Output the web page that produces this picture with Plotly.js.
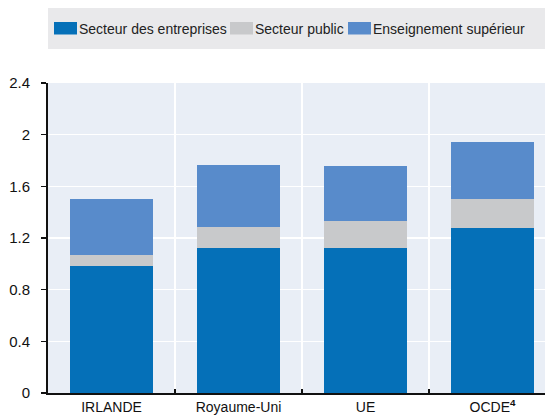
<!DOCTYPE html>
<html>
<head>
<meta charset="utf-8">
<script src="https://cdn.plot.ly/plotly-3.0.1.min.js"></script>
<style>html,body{margin:0;padding:0;overflow:hidden;background:#fff}#chart{width:545px;height:416px}</style>
</head>
<body>
<div id="chart"></div>
<script>
const categories = ["IRLANDE", "Royaume-Uni", "UE", "OCDE<sup><b>4</b></sup>"];
const seriesNames = ["Secteur des entreprises", "Secteur public", "Enseignement supérieur"];
const business = [0.98, 1.12, 1.12, 1.28];
const publicSector = [0.09, 0.165, 0.21, 0.22];
const higherEd = [0.43, 0.48, 0.43, 0.44];
const yTicks = [0, 0.4, 0.8, 1.2, 1.6, 2, 2.4];
const yTickLabels = ["0", "0.4", "0.8", "1.2", "1.6", "2", "2.4"];

const colors = ["#0570B8", "#C8C9CB", "#588BCB"];
const values = [business, publicSector, higherEd];
const FONT = "'Liberation Sans', Arial, sans-serif";

const traces = values.map((v, i) => ({
  type: "bar",
  x: categories,
  y: v,
  name: seriesNames[i],
  marker: {color: colors[i], line: {width: 0}},
  showlegend: false,
  hoverinfo: "none"
}));

// custom legend (paper coords: plot area x 48..545, y 83..393)
const legendX = [54, 230, 348];
const px = x => (x - 48) / 497;
const py = y => (393 - y) / 310;
const shapes = [{type: "rect", xref: "paper", yref: "paper", x0: px(48), x1: px(545), y0: py(49), y1: py(8), fillcolor: "#E9E9EB", line: {width: 0}, layer: "below"}];
const annotations = [];
seriesNames.forEach((n, i) => {
  shapes.push({type: "rect", xref: "paper", yref: "paper", x0: px(legendX[i]), x1: px(legendX[i] + 23), y0: py(34.5), y1: py(22), fillcolor: colors[i], line: {width: 0}});
  annotations.push({xref: "paper", yref: "paper", x: px(legendX[i] + 23), y: py(28.5), xanchor: "left", yanchor: "middle", text: n, showarrow: false, font: {family: FONT, size: 14, color: "#222"}});
});

const layout = {
  width: 545, height: 416,
  margin: {l: 48, r: 0, t: 83, b: 23, pad: 0},
  paper_bgcolor: "#ffffff",
  plot_bgcolor: "#E9EEF6",
  barmode: "stack",
  bargap: 0.35,
  font: {family: FONT, size: 14, color: "#111"},
  xaxis: {
    type: "category",
    range: [-0.5, 3.413],
    tickson: "boundaries",
    ticks: "inside", ticklen: 4, tickwidth: 1.5, tickcolor: "#111",
    showgrid: true, gridcolor: "#ffffff", gridwidth: 1.5,
    showline: true, linecolor: "#111", linewidth: 2,
    tickfont: {family: FONT, size: 14, color: "#111"},
    fixedrange: true
  },
  yaxis: {
    range: [0, 2.4],
    tickvals: yTicks, ticktext: yTickLabels,
    ticks: "outside", ticklen: 5, tickwidth: 1.5, tickcolor: "#111",
    showgrid: true, gridcolor: "#ffffff", gridwidth: 1.5,
    zeroline: false,
    showline: true, linecolor: "#111", linewidth: 2,
    tickfont: {family: FONT, size: 15, color: "#111"},
    ticklabelstandoff: 8,
    fixedrange: true
  },
  shapes: shapes,
  annotations: annotations
};

Plotly.newPlot("chart", traces, layout, {displayModeBar: false, staticPlot: true});
</script>
</body>
</html>
